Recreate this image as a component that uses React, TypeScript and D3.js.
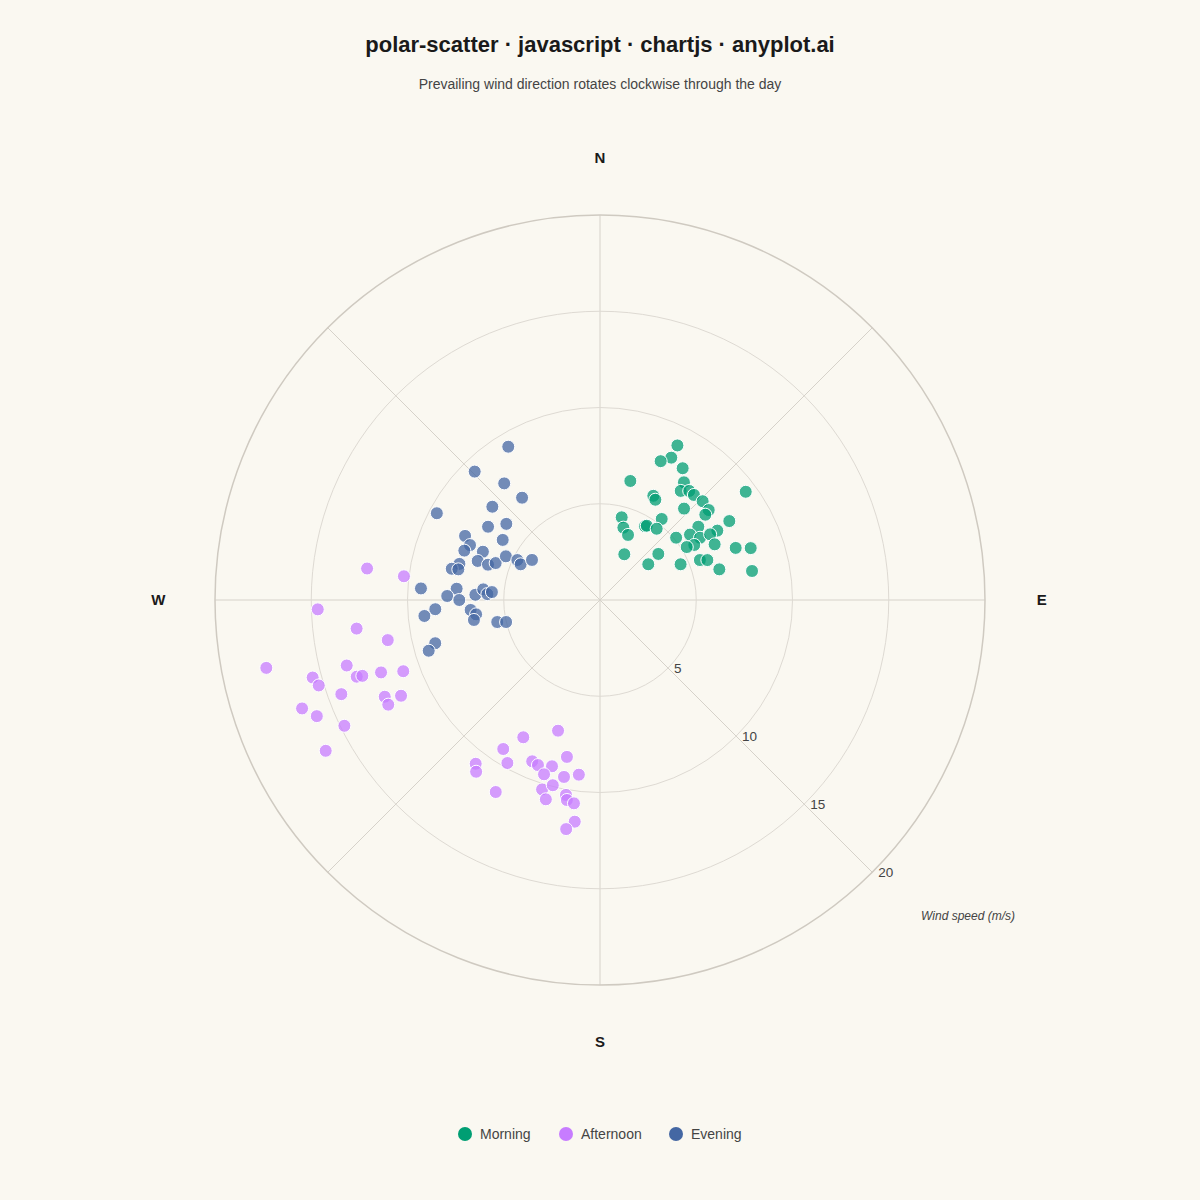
import React from "react";
import * as d3 from "d3";

// Wind direction (degrees, clockwise from N) and speed (m/s)
const morningDir = [26.6, 26.6, 23.6, 32.1, 14.3, 35.5, 53.4, 36.5, 39.3, 41.8, 27.1, 28.9, 46.1, 42.6, 50.4, 51.0, 14.7, 37.3, 58.6, 17.9, 31.4, 32.2, 38.5, 23.3, 50.7, 53.3, 59.4, 54.0, 58.1, 59.2, 59.7, 58.6, 64.1, 69.0, 71.0, 28.0, 51.7, 53.5, 66.1, 68.2, 69.6, 75.6, 79.2];
const morningSpeed = [8.98, 8.27, 7.87, 8.08, 6.38, 7.51, 9.43, 7.05, 7.32, 7.32, 6.08, 5.95, 7.40, 6.45, 7.33, 7.04, 4.44, 5.29, 7.87, 3.95, 4.49, 4.56, 4.73, 3.68, 5.11, 6.37, 7.08, 5.78, 6.12, 6.66, 5.67, 5.28, 6.62, 7.55, 8.28, 2.69, 3.86, 3.12, 4.58, 5.59, 5.95, 6.40, 8.04];

const afternoonDir = [277.7, 276.9, 268.1, 263.3, 259.3, 258.5, 255.5, 254.9, 252.5, 252.3, 251.7, 250.1, 253.1, 250.0, 245.8, 244.3, 243.7, 250.0, 247.7, 243.8, 241.2, 197.8, 209.2, 213.0, 217.2, 215.8, 209.6, 202.8, 200.6, 191.9, 196.1, 197.8, 191.5, 186.9, 208.5, 197.0, 194.3, 195.2, 189.9, 189.4, 187.3, 186.5, 188.4];
const afternoonSpeed = [12.21, 10.26, 14.67, 12.73, 11.22, 17.69, 13.59, 15.46, 13.25, 12.96, 11.98, 10.87, 15.27, 14.30, 12.26, 11.47, 12.27, 16.47, 15.90, 14.80, 16.26, 7.13, 8.17, 9.23, 10.68, 11.00, 9.74, 9.09, 9.16, 8.33, 8.99, 9.51, 9.38, 9.14, 11.35, 10.29, 9.93, 10.73, 10.28, 10.53, 10.65, 11.59, 12.03];

const eveningDir = [329.1, 315.7, 320.6, 322.7, 310.9, 298.0, 303.2, 309.1, 295.4, 292.9, 301.7, 290.0, 292.4, 287.7, 287.5, 289.5, 294.9, 295.8, 294.2, 300.5, 284.4, 281.9, 282.2, 273.7, 274.5, 271.5, 270.0, 272.4, 275.2, 273.0, 274.2, 266.8, 264.8, 265.6, 263.4, 261.0, 257.9, 256.8, 255.3, 253.5];
const eveningSpeed = [9.28, 9.32, 7.84, 6.68, 7.40, 9.60, 6.95, 6.27, 7.76, 7.33, 5.94, 7.50, 6.58, 6.67, 6.10, 5.75, 5.39, 4.77, 4.52, 4.10, 7.54, 7.87, 7.53, 9.32, 7.47, 7.94, 7.31, 6.48, 6.09, 5.86, 5.63, 8.57, 9.16, 6.74, 6.48, 6.63, 5.46, 5.01, 8.85, 9.28];

const seriesNames = ["Morning", "Afternoon", "Evening"];
const seriesColors = ["#009E73", "#C77CFF", "#4467A3"];
const radialTicks = [5, 10, 15, 20];
const compassLabels = ["N", "E", "S", "W"];
const spokeAngles = [0, 45, 90, 135, 180, 225, 270, 315];

const FONT = "'Liberation Sans', Arial, Helvetica, sans-serif";

export default function App() {
  const W = 1200, H = 1200;
  const cx = 600, cy = 600;
  const rScale = d3.scaleLinear().domain([0, 20]).range([0, 385]);
  const rad = (deg: number) => (deg * Math.PI) / 180;
  const px = (dir: number, s: number) => cx + rScale(s) * Math.sin(rad(dir));
  const py = (dir: number, s: number) => cy - rScale(s) * Math.cos(rad(dir));

  const series = [
    { dir: morningDir, speed: morningSpeed },
    { dir: afternoonDir, speed: afternoonSpeed },
    { dir: eveningDir, speed: eveningSpeed },
  ];

  const legendX = [465, 566, 676];

  return (
    <svg
      width={W}
      height={H}
      style={{ position: "absolute", left: 0, top: 0, background: "#FAF8F1" }}
      fontFamily={FONT}
    >
      <rect x={0} y={0} width={W} height={H} fill="#FAF8F1" />
      <text x={600} y={52} textAnchor="middle" fontSize={22} fontWeight="bold" fill="#1a1a1a">
        polar-scatter · javascript · chartjs · anyplot.ai
      </text>
      <text x={600} y={89} textAnchor="middle" fontSize={14} fill="#444">
        Prevailing wind direction rotates clockwise through the day
      </text>

      {/* spokes */}
      {spokeAngles.map((a) => (
        <line
          key={a}
          x1={cx}
          y1={cy}
          x2={px(a, 20)}
          y2={py(a, 20)}
          stroke="#d6d2ca"
          strokeWidth={1}
        />
      ))}
      {/* rings */}
      {radialTicks.map((t) => (
        <circle
          key={t}
          cx={cx}
          cy={cy}
          r={rScale(t)}
          fill="none"
          stroke={t === 20 ? "#cfcac1" : "#dedad3"}
          strokeWidth={t === 20 ? 1.5 : 1}
        />
      ))}
      {/* tick labels on SE spoke */}
      {radialTicks.map((t) => (
        <text
          key={"l" + t}
          x={px(135, t) + 6}
          y={py(135, t) + 5}
          fontSize={13.5}
          fill="#444"
        >
          {t}
        </text>
      ))}
      {/* compass labels */}
      {compassLabels.map((c, i) => (
        <text
          key={c}
          x={px(i * 90, 22.95)}
          y={py(i * 90, 22.95) + 5}
          textAnchor="middle"
          fontSize={15}
          fontWeight="bold"
          fill="#1a1a1a"
        >
          {c}
        </text>
      ))}
      <text x={1015} y={920} textAnchor="end" fontSize={12} fontStyle="italic" fill="#444">
        Wind speed (m/s)
      </text>

      {/* points */}
      {series.map((s, si) => (
        <g key={si}>
          {s.dir.map((d, i) => (
            <circle
              key={i}
              cx={px(d, s.speed[i])}
              cy={py(d, s.speed[i])}
              r={6.5}
              fill={seriesColors[si]}
              fillOpacity={0.75}
              stroke="#ffffff"
              strokeWidth={1}
            />
          ))}
        </g>
      ))}

      {/* legend */}
      {seriesNames.map((n, i) => (
        <g key={n}>
          <circle cx={legendX[i]} cy={1134} r={7} fill={seriesColors[i]} />
          <text x={legendX[i] + 15} y={1139} fontSize={14} fill="#444">
            {n}
          </text>
        </g>
      ))}
    </svg>
  );
}
